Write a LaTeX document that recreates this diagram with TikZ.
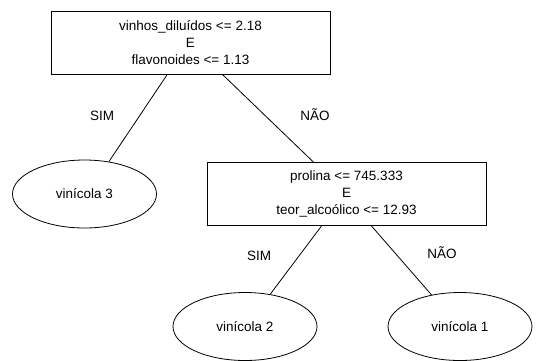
\documentclass[tikz,border=0pt]{standalone}
\usepackage{fontspec}
\setmainfont{Liberation Sans}
\usetikzlibrary{shapes.geometric}
\tikzset{>=stealth}
\tikzset{
  teste/.style={draw, line width=0.8pt, minimum width=279pt, minimum height=63pt, inner sep=0pt, align=center, font=\fontsize{13.5}{17}\selectfont},
  folha/.style={draw, ellipse, line width=0.8pt, minimum width=144pt, minimum height=68pt, inner sep=0pt, font=\fontsize{13.5}{17}\selectfont},
  rotulo/.style={font=\fontsize{13.5}{17}\selectfont}
}

\begin{document}
\begin{tikzpicture}[x=1pt, y=-1pt]
    \useasboundingbox (0,0) rectangle (536,360);
    \node[teste] (raiz) at (190.5,42.5) {vinhos\_diluídos <= 2.18\\E\\flavonoides <= 1.13};
    \node[folha] (vin3) at (84.5,194) {vinícola 3};
    \node[teste] (prol) at (346.5,194) {prolina <= 745.333\\E\\teor\_alcoólico <= 12.93};
    \node[folha] (vin2) at (245,326.5) {vinícola 2};
    \node[folha] (vin1) at (460,326.5) {vinícola 1};
    \draw[line width=0.8pt] (raiz.234.5) -- (vin3.53.4);
    \draw[line width=0.8pt] (raiz.315.9) -- (prol.136.3);
    \draw[line width=0.8pt] (prol.232.6) -- (vin2.52.4);
    \draw[line width=0.8pt] (prol.308.8) -- (vin1.132);
    \node[rotulo] (sim1) at (102,116) {SIM};
    \node[rotulo] (nao1) at (315,115) {NÃO};
    \node[rotulo] (sim2) at (259,256) {SIM};
    \node[rotulo] (nao2) at (442,253) {NÃO};
\end{tikzpicture}
\end{document}
